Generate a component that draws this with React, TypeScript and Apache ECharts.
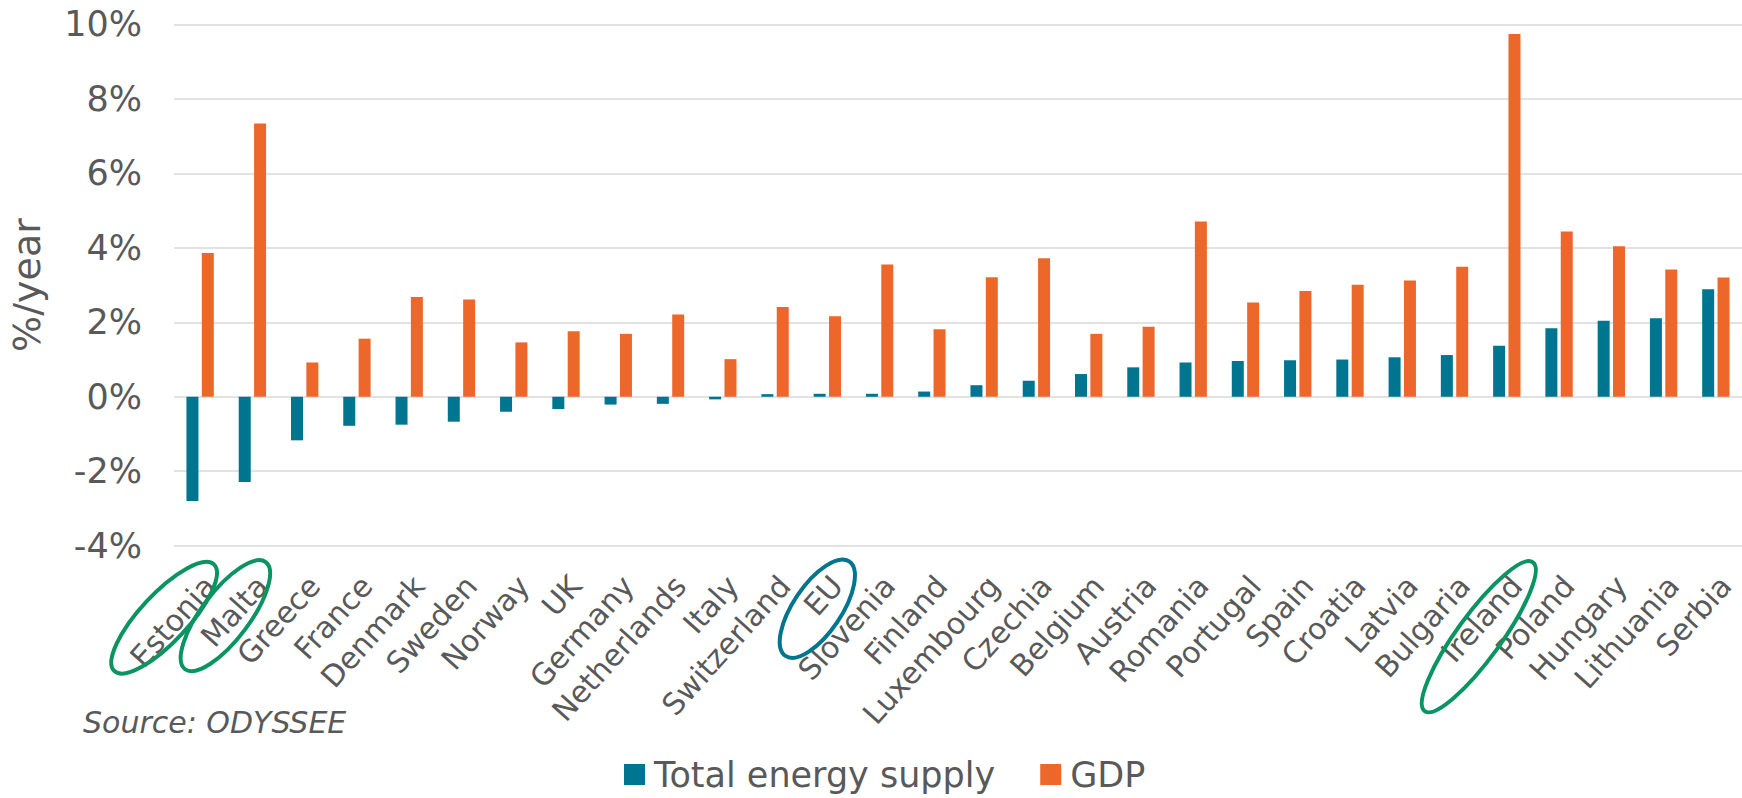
import React, { useEffect, useRef } from "react";
import * as echarts from "echarts";

const categories = [
  "Estonia", "Malta", "Greece", "France", "Denmark", "Sweden", "Norway", "UK",
  "Germany", "Netherlands", "Italy", "Switzerland", "EU", "Slovenia", "Finland",
  "Luxembourg", "Czechia", "Belgium", "Austria", "Romania", "Portugal", "Spain",
  "Croatia", "Latvia", "Bulgaria", "Ireland", "Poland", "Hungary", "Lithuania", "Serbia",
];
const energySupply = [
  -2.8, -2.29, -1.17, -0.78, -0.75, -0.67, -0.4, -0.33, -0.21, -0.19, -0.07,
  0.07, 0.08, 0.08, 0.14, 0.31, 0.43, 0.61, 0.79, 0.92, 0.96, 0.98, 1.0, 1.06,
  1.12, 1.37, 1.84, 2.04, 2.11, 2.89,
];
const gdp = [
  3.86, 7.34, 0.92, 1.56, 2.68, 2.61, 1.46, 1.76, 1.69, 2.21, 1.01, 2.41, 2.16,
  3.55, 1.81, 3.21, 3.72, 1.69, 1.88, 4.71, 2.53, 2.84, 3.01, 3.12, 3.49, 9.74,
  4.44, 4.04, 3.42, 3.2,
];
const seriesNames = ["Total energy supply", "GDP"];
const yTicks = { min: -4, max: 10, interval: 2 };
const yAxisName = "%/year";
const sourceLabel = "Source: ODYSSEE";

const TEAL = "#00758f";
const ORANGE = "#ec6729";
const GREEN = "#0b9461";
const TEXT = "#595959";
const FONT = "'DejaVu Sans', Verdana, sans-serif";

const highlights = [
  { name: "Estonia", color: GREEN, dx: -36, dy: 72, rx: 73, ry: 24, angle: 47 },
  { name: "Malta", color: GREEN, dx: -27, dy: 70, rx: 67, ry: 24, angle: 53 },
  { name: "EU", color: TEAL, dx: -10, dy: 63, rx: 57, ry: 24, angle: 56 },
  { name: "Ireland", color: GREEN, dx: -28, dy: 91, rx: 92, ry: 22, angle: 54 },
];

export default function App() {
  const ref = useRef<HTMLDivElement>(null);
  useEffect(() => {
    document.body.style.margin = "0";
    const chart = echarts.init(ref.current!, null, { renderer: "svg" });
    chart.setOption({
      animation: false,
      backgroundColor: "#ffffff",
      textStyle: { fontFamily: FONT },
      grid: { left: 168, right: -8, top: 24.4, bottom: 252.3, containLabel: false },
      legend: {
        data: seriesNames,
        left: 619,
        top: 752,
        itemWidth: 21,
        itemHeight: 21,
        itemGap: 45,
        icon: "rect",
        textStyle: { fontSize: 35, color: TEXT, fontFamily: FONT, lineHeight: 35, padding: [0, 0, 0, 4] },
      },
      xAxis: {
        type: "category",
        data: categories,
        axisLine: { show: false, onZero: false },
        axisTick: { show: false },
        axisLabel: {
          rotate: 48,
          interval: 0,
          margin: 26,
          verticalAlign: "top",
          lineHeight: 26,
          fontSize: 30,
          color: TEXT,
          fontFamily: FONT,
        },
      },
      yAxis: {
        type: "value",
        min: yTicks.min,
        max: yTicks.max,
        interval: yTicks.interval,
        name: yAxisName,
        nameLocation: "middle",
        nameGap: 128,
        nameTextStyle: { fontSize: 38, color: TEXT, fontFamily: FONT },
        axisLine: { show: false },
        axisTick: { show: false },
        axisLabel: {
          margin: 32,
          fontSize: 35,
          color: TEXT,
          fontFamily: FONT,
          formatter: (v: number) => `${v}%`,
        },
        splitLine: { lineStyle: { color: "#d9d9d9", width: 1.5 } },
      },
      series: [
        {
          name: seriesNames[0],
          type: "bar",
          data: energySupply,
          barWidth: 12,
          barGap: "28%",
          itemStyle: { color: TEAL },
        },
        {
          name: seriesNames[1],
          type: "bar",
          data: gdp,
          barWidth: 12,
          itemStyle: { color: ORANGE },
        },
      ],
      graphic: [
        {
          type: "text",
          id: "source",
          left: 83,
          top: 707,
          style: {
            text: sourceLabel,
            fill: TEXT,
            font: `italic 30px ${FONT}`,
          },
        },
      ],
    });
    const bottomY = chart.convertToPixel({ yAxisIndex: 0 }, yTicks.min) as number;
    const ellipses = highlights.map((h, i) => {
      const cx = chart.convertToPixel({ xAxisIndex: 0 }, h.name) as number;
      return {
        type: "ellipse",
        id: "hl" + i,
        x: cx + h.dx,
        y: bottomY + h.dy,
        rotation: (h.angle * Math.PI) / 180,
        shape: { cx: 0, cy: 0, rx: h.rx, ry: h.ry },
        style: { fill: "none", stroke: h.color, lineWidth: 4 },
        z: 100,
      };
    });
    chart.setOption({ graphic: ellipses });
    return () => chart.dispose();
  }, []);
  return <div ref={ref} style={{ width: 1742, height: 798 }} />;
}
